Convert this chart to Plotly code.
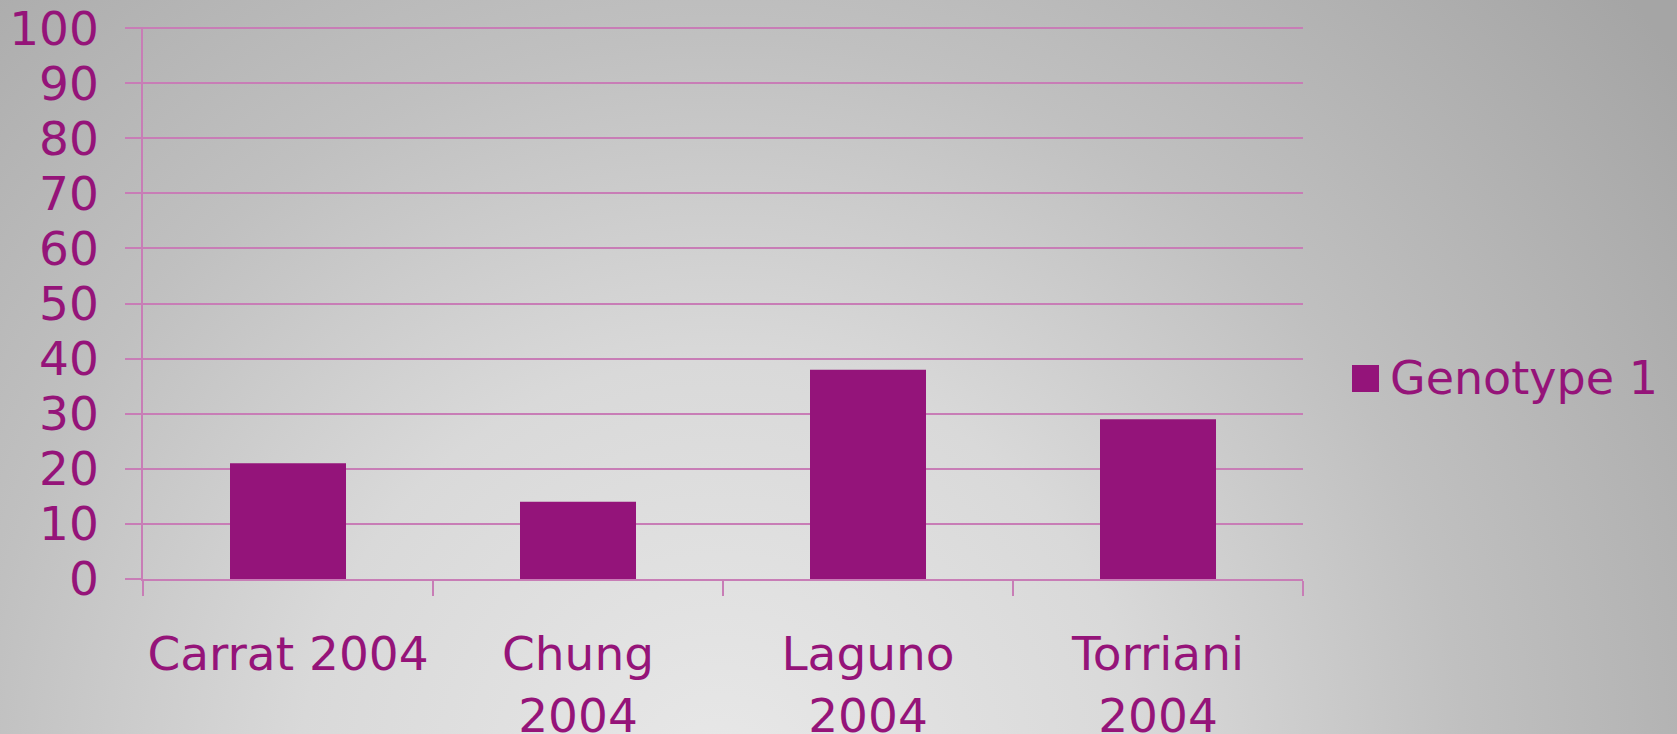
import base64
import plotly.graph_objects as go

# ---- data ----
categories = ["Carrat 2004", "Chung 2004", "Laguno 2004", "Torriani 2004"]
tick_labels = ["Carrat 2004", "Chung<br>2004", "Laguno<br>2004", "Torriani<br>2004"]
series_name = "Genotype 1"
values = [21, 14, 38, 29]
y_ticks = [0, 10, 20, 30, 40, 50, 60, 70, 80, 90, 100]

# ---- style ----
W, H = 1677, 734
ML, MR, MT, MB = 143, 374, 27, 155
PW, PH = W - ML - MR, H - MT - MB
TEXT = "#951479"
BAR = "#94147A"
GRID = "#C87DB6"
FONT = "DejaVu Sans"
FS_TICK = 47
FS_LEG = 46

def px_x(px):
    return (px - ML) / PW

def px_y(py):
    return (H - MB - py) / PH

svg = f'''<svg xmlns="http://www.w3.org/2000/svg" width="{W}" height="{H}" viewBox="0 0 {W} {H}">
<defs><radialGradient id="g" gradientUnits="userSpaceOnUse" cx="720" cy="780" r="1200">
<stop offset="0" stop-color="#e8e8e8"/>
<stop offset="0.35" stop-color="#d9d9d9"/>
<stop offset="0.62" stop-color="#c0c0c0"/>
<stop offset="1" stop-color="#a5a5a5"/>
</radialGradient></defs>
<rect width="{W}" height="{H}" fill="url(#g)"/></svg>'''
bg_src = "data:image/svg+xml;base64," + base64.b64encode(svg.encode()).decode()

fig = go.Figure()
fig.add_trace(go.Bar(
    x=tick_labels, y=values, name=series_name,
    marker=dict(color=BAR, line=dict(width=0)),
    width=0.4, showlegend=False,
))

fig.update_layout(
    width=W, height=H,
    margin=dict(l=ML, r=MR, t=MT, b=MB, pad=0, autoexpand=False),
    paper_bgcolor="#c4c4c4",
    plot_bgcolor="rgba(0,0,0,0)",
    font=dict(family=FONT, size=FS_TICK, color=TEXT),
    images=[dict(
        source=bg_src, xref="paper", yref="paper",
        x=px_x(0), y=px_y(0), sizex=W / PW, sizey=H / PH,
        xanchor="left", yanchor="top", sizing="stretch", layer="below",
    )],
    xaxis=dict(
        type="category", automargin=False, tickangle=0,
        showgrid=False,
        showline=True, linecolor=GRID, linewidth=2,
        ticks="outside", tickson="boundaries", ticklen=15, tickwidth=1.5, tickcolor=GRID,
        tickfont=dict(family=FONT, size=FS_TICK, color=TEXT),
        ticklabelstandoff=33,
        zeroline=False,
    ),
    yaxis=dict(
        range=[0, 100.2], tickvals=y_ticks, automargin=False,
        showgrid=True, gridcolor=GRID, gridwidth=2,
        showline=True, linecolor=GRID, linewidth=1.5,
        ticks="outside", ticklen=16, tickwidth=2, tickcolor=GRID,
        tickfont=dict(family=FONT, size=FS_TICK, color=TEXT),
        ticklabelstandoff=17,
        zeroline=False,
    ),
    shapes=[dict(
        type="rect", xref="paper", yref="paper",
        x0=px_x(1352), x1=px_x(1379), y0=px_y(392), y1=px_y(365),
        fillcolor=BAR, line=dict(width=0),
    )],
    annotations=[dict(
        text=series_name, xref="paper", yref="paper",
        x=px_x(1388), y=px_y(378), xanchor="left", yanchor="middle",
        showarrow=False, font=dict(family=FONT, size=FS_LEG, color=TEXT),
    )],
)

fig.write_html(
    "out.html",
    config=dict(displayModeBar=False, responsive=False),
    post_script="document.body.style.margin='0';document.body.style.overflow='hidden';",
)
